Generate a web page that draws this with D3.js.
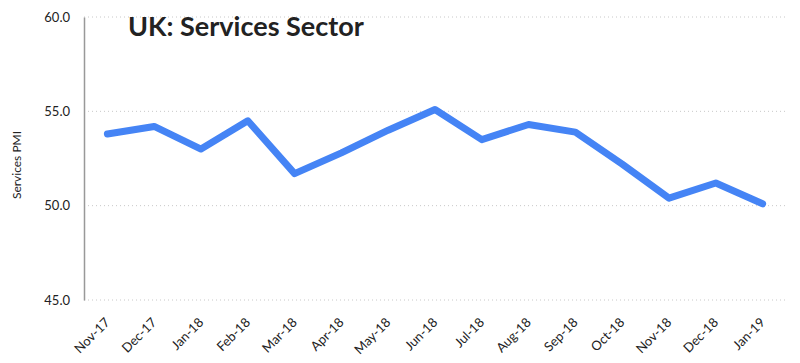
<!DOCTYPE html>
<html>
<head>
<meta charset="utf-8">
<script src="https://d3js.org/d3.v7.min.js"></script>
<style>
  body { margin: 0; background: #fff; }
  text { font-family: Lato, "Open Sans", sans-serif; fill: #222; }
</style>
</head>
<body>
<svg id="root"></svg>
<script>
const months = ["Nov-17", "Dec-17", "Jan-18", "Feb-18", "Mar-18", "Apr-18", "May-18", "Jun-18",
  "Jul-18", "Aug-18", "Sep-18", "Oct-18", "Nov-18", "Dec-18", "Jan-19"];
const pmi = [53.8, 54.2, 53.0, 54.5, 51.7, 52.8, 54.0, 55.1, 53.5, 54.3, 53.9, 52.2, 50.4, 51.2, 50.1];
const yTicks = [45, 50, 55, 60];

const width = 800, height = 363;
const margin = { top: 17, right: 14, bottom: 63, left: 84 };

const svg = d3.select("#root").attr("width", width).attr("height", height);

const x = d3.scalePoint()
  .domain(months)
  .range([margin.left, width - margin.right])
  .padding(0.5);

const y = d3.scaleLinear()
  .domain([45, 60])
  .range([height - margin.bottom, margin.top]);

// gridlines
svg.append("g")
  .selectAll("line")
  .data(yTicks)
  .enter().append("line")
  .attr("x1", margin.left)
  .attr("x2", width - margin.right)
  .attr("y1", d => y(d))
  .attr("y2", d => y(d))
  .attr("stroke", "#c8c8c8")
  .attr("stroke-width", 1)
  .attr("stroke-dasharray", "1,3");

// y axis
let yAxis = svg.append("g")
  .attr("transform", `translate(${margin.left},0)`)
  .call(d3.axisLeft(y).tickValues(yTicks).tickFormat(d3.format(".1f")).tickSize(0).tickPadding(14));
yAxis.select(".domain").attr("stroke", "#999").attr("stroke-width", 1.5);
yAxis.selectAll("text").style("font-size", "13px").style("font-family", "Lato, 'Open Sans', sans-serif").attr("fill", "#222");

// x labels
svg.append("g")
  .selectAll("text")
  .data(months)
  .enter().append("text")
  .attr("transform", d => `translate(${x(d)},${height - margin.bottom + 20}) rotate(-45)`)
  .attr("text-anchor", "end")
  .attr("dy", "0.35em")
  .style("font-size", "13px")
  .text(d => d);

// y title
svg.append("text")
  .attr("transform", `translate(21,165) rotate(-90)`)
  .attr("text-anchor", "middle")
  .style("font-size", "12px")
  .text("Services PMI");

// chart title
svg.append("text")
  .attr("x", 128)
  .attr("y", 36)
  .style("font-size", "27px")
  .style("font-weight", "bold")
  .attr("fill", "#000")
  .text("UK: Services Sector");

// line
const line = d3.line()
  .x((d, i) => x(months[i]))
  .y(d => y(d));

svg.append("path")
  .datum(pmi)
  .attr("d", line)
  .attr("fill", "none")
  .attr("stroke", "#4584f5")
  .attr("stroke-width", 7)
  .attr("stroke-linecap", "round")
  .attr("stroke-linejoin", "round");
</script>
</body>
</html>
